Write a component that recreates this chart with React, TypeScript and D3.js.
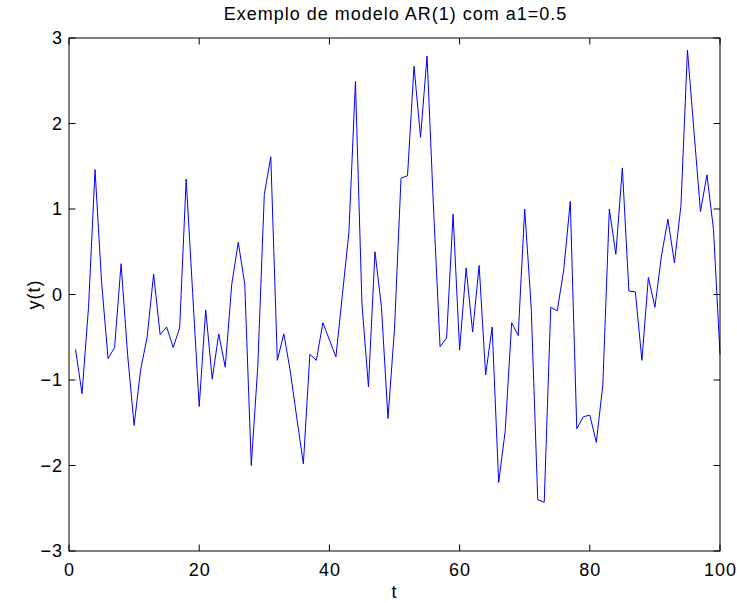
import React from "react";
import * as d3 from "d3";

const tValues: number[] = Array.from({ length: 100 }, (_, i) => i + 1);
const yValues: number[] = [
  -0.64, -1.16, -0.15, 1.46, 0.15, -0.75, -0.62, 0.36, -0.7, -1.53,
  -0.88, -0.5, 0.24, -0.47, -0.38, -0.62, -0.39, 1.35, 0.01, -1.31,
  -0.18, -0.99, -0.46, -0.85, 0.12, 0.61, 0.12, -2.0, -0.84, 1.17,
  1.61, -0.77, -0.46, -0.9, -1.45, -1.98, -0.7, -0.77, -0.33, -0.53,
  -0.73, 0.0, 0.73, 2.49, -0.11, -1.08, 0.5, -0.15, -1.45, -0.4,
  1.36, 1.39, 2.67, 1.84, 2.79, 1.0, -0.61, -0.51, 0.94, -0.65,
  0.31, -0.44, 0.34, -0.94, -0.38, -2.2, -1.6, -0.33, -0.48, 1.0,
  -0.15, -2.4, -2.43, -0.15, -0.19, 0.29, 1.09, -1.57, -1.43, -1.41,
  -1.73, -1.06, 1.0, 0.47, 1.48, 0.04, 0.03, -0.77, 0.2, -0.15,
  0.45, 0.88, 0.37, 1.04, 2.86, 1.91, 0.97, 1.4, 0.76, -0.7,
];
const xTicks: number[] = [0, 20, 40, 60, 80, 100];
const yTicks: number[] = [-3, -2, -1, 0, 1, 2, 3];
const titleText = "Exemplo de modelo AR(1) com a1=0.5";
const xLabel = "t";
const yLabel = "y(t)";

const W = 737;
const H = 603;
const L = 69;
const R = 720;
const T = 38;
const B = 551;
const TICK = 6.5;
const FS = 18;
const LS = 1;
const FONT = "'Liberation Sans', Arial, Helvetica, sans-serif";

const fmt = (v: number) => (v < 0 ? "\u2212" + Math.abs(v) : String(v));

export default function App() {
  const x = d3.scaleLinear().domain([0, 100]).range([L, R]);
  const y = d3.scaleLinear().domain([-3, 3]).range([B, T]);
  const line = d3
    .line<number>()
    .x((_, i) => x(tValues[i]))
    .y((d) => y(d));
  const path = line(yValues) || "";

  return (
    <svg
      width={W}
      height={H}
      style={{ position: "absolute", left: 0, top: 0, background: "#fff" }}
      fontFamily={FONT}
      fontSize={FS}
      letterSpacing={LS}
    >
      <rect x={0} y={0} width={W} height={H} fill="#fff" />
      <path d={path} fill="none" stroke="#0000ff" strokeWidth={1} />
      {xTicks.map((t) => (
        <g key={"x" + t}>
          <line x1={x(t)} x2={x(t)} y1={B} y2={B - TICK} stroke="#000" strokeWidth={1} />
          <line x1={x(t)} x2={x(t)} y1={T} y2={T + TICK} stroke="#000" strokeWidth={1} />
          <text x={x(t) + LS / 2} y={576} textAnchor="middle" fill="#000">
            {fmt(t)}
          </text>
        </g>
      ))}
      {yTicks.map((v) => (
        <g key={"y" + v}>
          <line x1={L} x2={L + TICK} y1={y(v)} y2={y(v)} stroke="#000" strokeWidth={1} />
          <line x1={R} x2={R - TICK} y1={y(v)} y2={y(v)} stroke="#000" strokeWidth={1} />
          <text x={62 + LS} y={y(v) + 6.4} textAnchor="end" fill="#000">
            {fmt(v)}
          </text>
        </g>
      ))}
      <rect x={L} y={T} width={R - L} height={B - T} fill="none" stroke="#000" strokeWidth={1} />
      <text x={(L + R) / 2 + 1} y={20} textAnchor="middle" fill="#000">
        {titleText}
      </text>
      <text x={(L + R) / 2} y={598} textAnchor="middle" fill="#000">
        {xLabel}
      </text>
      <text
        transform={`translate(40, ${(T + B) / 2}) rotate(-90)`}
        textAnchor="middle"
        fill="#000"
      >
        {yLabel}
      </text>
    </svg>
  );
}
